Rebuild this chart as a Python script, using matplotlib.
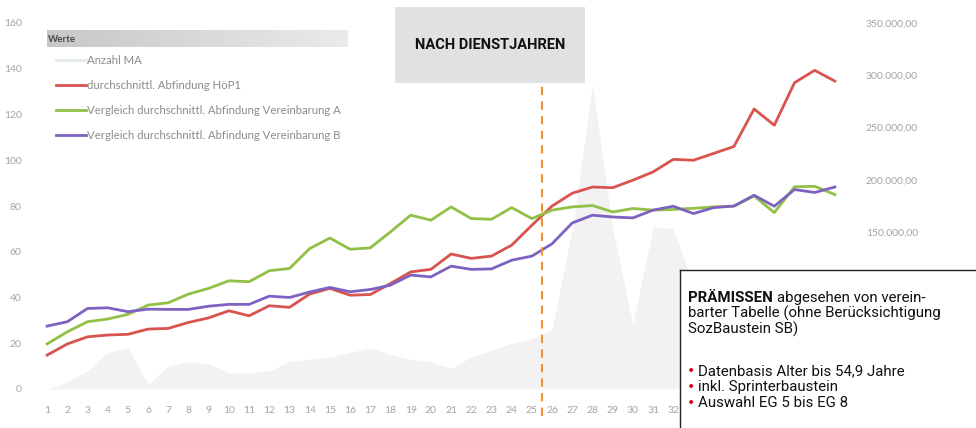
"""Abfindungen nach Dienstjahren: Anzahl MA und durchschnittliche Abfindung."""

import matplotlib

matplotlib.use("Agg")

import matplotlib.pyplot as plt
import numpy as np
from matplotlib.lines import Line2D
from matplotlib.ticker import FuncFormatter

# --- data -------------------------------------------------------------------
years = list(range(1, 41))
year_labels = [str(y) for y in years]

# Anzahl MA (left axis)
anzahl_ma = [0, 3, 8, 16, 18, 2, 10, 12, 11, 7, 7, 8, 12, 13, 14, 16, 18, 15, 13, 12,
             9, 14, 17, 20, 22, 26, 70, 133, 70, 28, 71, 70, 45, 35, 28, 22, 18, 12, 8, 5]

# average severance, read in left-axis units and converted to EUR below
hoep1_units = [14.8, 19.7, 22.8, 23.6, 23.9, 26.2, 26.5, 29.1, 31.1, 34.2,
               32.0, 36.4, 35.7, 41.5, 44.0, 41.0, 41.3, 46.1, 51.2, 52.3,
               59.0, 57.1, 58.1, 62.9, 71.6, 80.0, 85.6, 88.3, 88.0, 91.3,
               94.9, 100.4, 100.0, 103.0, 106.0, 122.4, 115.3, 133.9, 139.3, 134.6]
verein_a_units = [19.7, 25.0, 29.4, 30.6, 32.6, 36.7, 37.7, 41.5, 44.0, 47.3,
                  46.9, 51.7, 52.7, 61.4, 66.0, 61.1, 61.7, 68.7, 76.0, 73.8,
                  79.6, 74.5, 74.2, 79.3, 74.5, 78.2, 79.6, 80.2, 77.4, 78.9,
                  78.2, 78.5, 79.0, 79.6, 79.9, 84.4, 77.1, 88.4, 88.6, 85.0]
verein_b_units = [27.5, 29.4, 35.2, 35.5, 33.8, 34.9, 34.8, 34.8, 36.2, 37.0,
                  37.0, 40.6, 40.0, 42.4, 44.4, 42.5, 43.5, 45.4, 49.8, 49.0,
                  53.7, 52.3, 52.5, 56.3, 58.1, 63.5, 72.6, 76.0, 75.2, 74.8,
                  78.2, 79.9, 76.7, 79.3, 80.0, 84.7, 79.9, 87.2, 85.9, 88.3]
EUR_PER_UNIT = 350000 / 160
hoep1 = [v * EUR_PER_UNIT for v in hoep1_units]
verein_a = [v * EUR_PER_UNIT for v in verein_a_units]
verein_b = [v * EUR_PER_UNIT for v in verein_b_units]

left_ticks = [0, 20, 40, 60, 80, 100, 120, 140, 160]
right_ticks = [0, 50000, 100000, 150000, 200000, 250000, 300000, 350000]
SPLIT_AT = 25.5

series_labels = [
    "Anzahl MA",
    "durchschnittl. Abfindung HöP1",
    "Vergleich durchschnittl. Abfindung Vereinbarung A",
    "Vergleich durchschnittl. Abfindung Vereinbarung B",
]

# --- figure -----------------------------------------------------------------
W, H = 976, 428
fig = plt.figure(figsize=(W / 100, H / 100), dpi=100)
fig.patch.set_facecolor("white")
CHART_FONT = ["Lato", "DejaVu Sans"]
NARROW_FONT = ["Roboto", "DejaVu Sans"]
TICK_GREY = "#a3a3a3"
BOX_LEFT, BOX_TOP = 680, 270


def px(x, y):
    return x / W, 1 - y / H


ax = fig.add_axes([37 / W, 1 - 389 / H, (845 - 37) / W, (389 - 23) / H])
ax2 = ax.twinx()

ax.fill_between(years, anzahl_ma, 0, color="#f2f2f2", lw=0, zorder=1)
ax.set_xlim(0.5, 40.5)
ax.set_ylim(0, 160)
ax.set_yticks(left_ticks)
ax.set_xticks(years)
ax.set_xticklabels(year_labels)

(l_red,) = ax2.plot(years, hoep1, color="#d9534f", lw=2.0, solid_joinstyle="round")
(l_green,) = ax2.plot(years, verein_a, color="#92c046", lw=2.0, solid_joinstyle="round")
(l_purple,) = ax2.plot(years, verein_b, color="#7d62c2", lw=2.0, solid_joinstyle="round")
ax2.set_ylim(0, 350000)
ax2.set_yticks(right_ticks)
ax2.yaxis.set_major_formatter(
    FuncFormatter(lambda v, _: f"{v:,.2f}".replace(",", "X").replace(".", ",").replace("X", "."))
)

for a in (ax, ax2):
    for s in a.spines.values():
        s.set_visible(False)
    a.tick_params(length=0, colors=TICK_GREY, labelsize=7.5)
    for lab in a.get_xticklabels() + a.get_yticklabels():
        lab.set_family(CHART_FONT)
ax.tick_params(axis="y", pad=11)
ax.tick_params(axis="x", pad=12)
ax2.tick_params(axis="y", pad=15)

# split marker
ax2.axvline(SPLIT_AT, ymin=-0.075, ymax=0.836, clip_on=False, color="#f39033",
            lw=1.5, dashes=(4, 3), zorder=5)

# legend header bar ("Werte")
grad = np.linspace(0.78, 0.92, 256).reshape(1, -1)
hx0, hy0 = px(47, 47)
hx1, hy1 = px(348, 30)
hdr = fig.add_axes([hx0, hy0, hx1 - hx0, hy1 - hy0])
hdr.imshow(np.dstack([grad, grad, grad]), aspect="auto", extent=(0, 1, 0, 1))
hdr.axis("off")
fig.text(*px(48, 39), "Werte", fontsize=7, weight="bold", color="#4a4a4a",
         va="center", family=CHART_FONT)

area_handle = Line2D([], [], color="#e3eaea", lw=2.0)
leg = ax2.legend(
    [area_handle, l_red, l_green, l_purple],
    series_labels,
    loc="upper left",
    bbox_to_anchor=px(56, 55),
    bbox_transform=fig.transFigure,
    frameon=False,
    handlelength=2.6,
    handletextpad=0.15,
    labelspacing=1.22,
    borderpad=0,
    borderaxespad=0,
    prop={"family": CHART_FONT, "size": 8.2},
)
for t in leg.get_texts():
    t.set_color("#8c8c8c")

# title box
tb = fig.add_axes([395 / W, 1 - 83 / H, (585 - 395) / W, (83 - 7) / H])
tb.set_facecolor("#e1e1e1")
tb.set_xticks([])
tb.set_yticks([])
for s in tb.spines.values():
    s.set_visible(False)
tb.text(0.5, 0.5, "NACH DIENSTJAHREN", ha="center", va="center", fontsize=10.5,
        weight="bold", color="#111111", family=NARROW_FONT)

# premises box
pb = fig.add_axes([BOX_LEFT / W, -0.05, 0.5, 0.05 + 1 - BOX_TOP / H], zorder=10)
pb.set_facecolor("white")
pb.set_xticks([])
pb.set_yticks([])
for s in pb.spines.values():
    s.set_linewidth(1.0)
    s.set_color("#222222")

# tick labels that sit under the premises box are not visible in the chart
fig.canvas.draw()
for lab in ax.get_xticklabels() + ax2.get_yticklabels():
    bb = lab.get_window_extent()
    if bb.x1 > BOX_LEFT and (H - bb.y1) > BOX_TOP:
        lab.set_visible(False)

TXT = dict(fontsize=10.8, color="#111111", family=NARROW_FONT, va="baseline", zorder=11)
t1 = fig.text(*px(688, 302), "PRÄMISSEN", weight="bold", **TXT)
fig.canvas.draw()
bb = t1.get_window_extent()
fig.text(bb.x1 / W + 4 / W, 1 - 302 / H, "abgesehen von verein-", **TXT)
fig.text(*px(688, 318), "barter Tabelle (ohne Berücksichtigung", **TXT)
fig.text(*px(688, 334), "SozBaustein SB)", **TXT)
bullets = ["Datenbasis Alter bis 54,9 Jahre", "inkl. Sprinterbaustein", "Auswahl EG 5 bis EG 8"]
for i, b in enumerate(bullets):
    y = 375 + i * 16
    fig.text(*px(687, y), "•", **{**TXT, "color": "#e3001b", "family": ["DejaVu Sans"],
                                   "fontsize": 10})
    fig.text(*px(698, y), b, **TXT)

fig.savefig("out.png", dpi=100, facecolor="white")
